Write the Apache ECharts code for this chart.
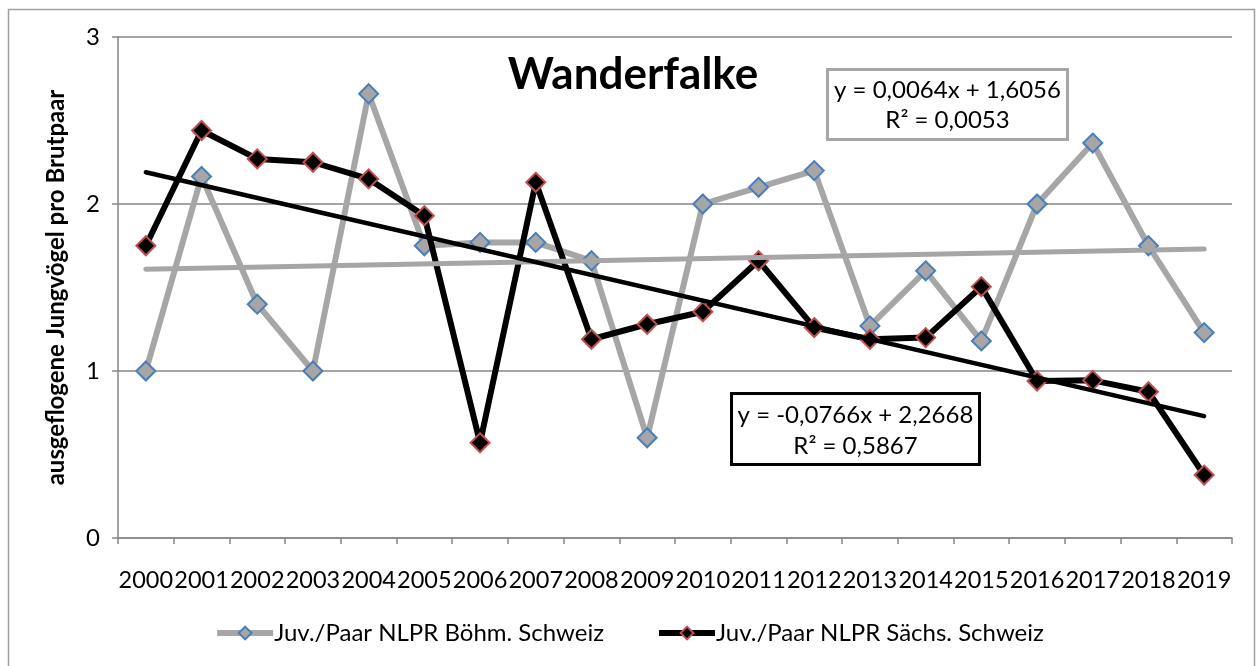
<!DOCTYPE html>
<html>
<head>
<meta charset="utf-8">
<script src="https://cdn.jsdelivr.net/npm/echarts@6/dist/echarts.min.js"></script>
<style>
  html, body { margin: 0; padding: 0; background: #fff; }
  #chart { width: 1258px; height: 666px; }
</style>
</head>
<body>
<div id="chart"></div>
<script>
(function () {
  var years = ['2000', '2001', '2002', '2003', '2004', '2005', '2006', '2007', '2008', '2009',
    '2010', '2011', '2012', '2013', '2014', '2015', '2016', '2017', '2018', '2019'];
  var boehm = [1.00, 2.165, 1.40, 1.00, 2.66, 1.75, 1.77, 1.77, 1.66, 0.60,
    2.00, 2.10, 2.20, 1.27, 1.60, 1.18, 2.00, 2.365, 1.75, 1.23];
  var saechs = [1.75, 2.44, 2.27, 2.25, 2.15, 1.93, 0.57, 2.13, 1.19, 1.28,
    1.355, 1.66, 1.26, 1.19, 1.20, 1.505, 0.94, 0.944, 0.876, 0.377];
  // trend lines, start and end
  var boehmTrend = [1.61, null, null, null, null, null, null, null, null, null,
    null, null, null, null, null, null, null, null, null, 1.73];
  var saechsTrend = [2.19, null, null, null, null, null, null, null, null, null,
    null, null, null, null, null, null, null, null, null, 0.73];
  var yTicks = [0, 1, 2, 3];

  var font = 'Lato, "Open Sans", sans-serif';
  var axisGray = '#868686';
  var eqFont = '24px ' + font;

  var chart = echarts.init(document.getElementById('chart'));
  chart.setOption({
    animation: false,
    textStyle: { fontFamily: font, color: '#000' },
    title: {
      text: 'Wanderfalke',
      left: 628,
      top: 48,
      textAlign: 'center',
      textStyle: { fontSize: 44, fontWeight: 'bold', color: '#000', fontFamily: font }
    },
    grid: { left: 118, right: 26, top: 37, bottom: 128 },
    legend: {
      top: 616,
      left: 'center',
      itemGap: 52,
      itemWidth: 56,
      itemHeight: 16,
      data: [{
        name: 'Juv./Paar NLPR Böhm. Schweiz',
        lineStyle: { width: 6, color: '#a6a6a6' }
      }, {
        name: 'Juv./Paar NLPR Sächs. Schweiz',
        lineStyle: { width: 6, color: '#000' }
      }],
      textStyle: { fontSize: 24, color: '#000', fontFamily: font, padding: [0, 0, 0, -4] }
    },
    xAxis: {
      type: 'category',
      data: years,
      boundaryGap: true,
      axisLine: { lineStyle: { color: axisGray, width: 1.5 } },
      axisTick: { show: true, length: 6, lineStyle: { color: axisGray, width: 1.5 } },
      axisLabel: { interval: 0, fontSize: 23.5, color: '#000', margin: 30, fontFamily: font }
    },
    yAxis: {
      type: 'value',
      min: yTicks[0],
      max: yTicks[yTicks.length - 1],
      interval: 1,
      name: 'ausgeflogene Jungvögel pro Brutpaar',
      nameLocation: 'middle',
      nameGap: 50,
      nameTextStyle: { fontSize: 24, fontWeight: 'bold', color: '#000', fontFamily: font },
      axisLine: { show: true, lineStyle: { color: axisGray, width: 1.5 } },
      axisTick: { show: true, length: 6, lineStyle: { color: axisGray, width: 1.5 } },
      axisLabel: { fontSize: 24, color: '#000', margin: 18, fontFamily: font },
      splitLine: { lineStyle: { color: axisGray, width: 1.5 } }
    },
    series: [{
      name: 'Juv./Paar NLPR Böhm. Schweiz',
      type: 'line',
      data: boehm,
      symbol: 'diamond',
      symbolSize: 19,
      lineStyle: { color: '#a6a6a6', width: 6 },
      itemStyle: { color: '#a6a6a6', borderColor: '#4a7ebb', borderWidth: 2 },
      z: 2
    }, {
      name: 'Juv./Paar NLPR Sächs. Schweiz',
      type: 'line',
      data: saechs,
      symbol: 'diamond',
      symbolSize: 19,
      lineStyle: { color: '#000', width: 6 },
      itemStyle: { color: '#000', borderColor: '#c0504d', borderWidth: 2 },
      z: 3
    }, {
      name: 'trendBoehm',
      type: 'line',
      data: boehmTrend,
      connectNulls: true,
      showSymbol: false,
      symbol: 'none',
      lineStyle: { color: '#a6a6a6', width: 5, cap: 'round' },
      z: 4
    }, {
      name: 'trendSaechs',
      type: 'line',
      data: saechsTrend,
      connectNulls: true,
      showSymbol: false,
      symbol: 'none',
      lineStyle: { color: '#000', width: 4.5, cap: 'round' },
      z: 4
    }],
    graphic: [{
      type: 'rect',
      left: 6, top: 7,
      shape: { width: 1246, height: 670 },
      style: { fill: 'none', stroke: '#a0a0a0', lineWidth: 1.5 },
      silent: true
    }, {
      // gray equation box
      type: 'group',
      left: 826, top: 68,
      children: [{
        type: 'rect',
        shape: { width: 240, height: 70 },
        style: { fill: '#fff', stroke: '#a6a6a6', lineWidth: 3 }
      }, {
        type: 'text',
        x: 120, y: 21,
        style: { text: 'y = 0,0064x + 1,6056', font: eqFont, fill: '#000', align: 'center', verticalAlign: 'middle' }
      }, {
        type: 'text',
        x: 120, y: 51,
        style: { text: 'R² = 0,0053', font: eqFont, fill: '#000', align: 'center', verticalAlign: 'middle' }
      }],
      z: 10
    }, {
      // black equation box
      type: 'group',
      left: 730, top: 392,
      children: [{
        type: 'rect',
        shape: { width: 248, height: 71 },
        style: { fill: '#fff', stroke: '#000', lineWidth: 3 }
      }, {
        type: 'text',
        x: 124, y: 22,
        style: { text: 'y = -0,0766x + 2,2668', font: eqFont, fill: '#000', align: 'center', verticalAlign: 'middle' }
      }, {
        type: 'text',
        x: 124, y: 53,
        style: { text: 'R² = 0,5867', font: eqFont, fill: '#000', align: 'center', verticalAlign: 'middle' }
      }],
      z: 10
    }]
  });
})();
</script>
</body>
</html>
